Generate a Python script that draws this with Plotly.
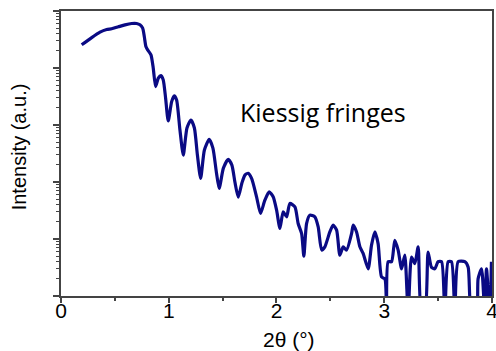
import plotly.graph_objects as go

two_theta = [0.192, 0.285, 0.362, 0.424, 0.470, 0.532, 0.594, 0.656, 0.702, 0.733,
             0.758, 0.773, 0.788, 0.804, 0.835, 0.856, 0.878, 0.903, 0.928, 0.949,
             0.971, 0.995, 1.027, 1.051, 1.073, 1.104, 1.135, 1.169, 1.206, 1.238,
             1.266, 1.296, 1.331, 1.376, 1.410, 1.442, 1.468, 1.507, 1.552, 1.586,
             1.614, 1.645, 1.679, 1.707, 1.737, 1.769, 1.815, 1.852, 1.892, 1.932,
             1.969, 2.001, 2.032, 2.062, 2.094, 2.124, 2.171, 2.201, 2.233, 2.254,
             2.279, 2.310, 2.356, 2.387, 2.419, 2.449, 2.495, 2.526, 2.558, 2.588,
             2.619, 2.650, 2.697, 2.712, 2.743, 2.774, 2.804, 2.851, 2.882, 2.913,
             2.943, 2.975, 3.006, 3.021, 3.036, 3.068, 3.098, 3.129, 3.161, 3.191,
             3.222, 3.253, 3.284, 3.315, 3.346, 3.377, 3.407, 3.438, 3.469, 3.500,
             3.532, 3.562, 3.593, 3.624, 3.655, 3.686, 3.748, 3.779, 3.810, 3.856,
             3.871, 3.903, 3.933, 3.949, 3.980, 3.995]

intensity = [25500, 34200, 42600, 47300, 48700, 52800, 57200, 60300, 60300, 57200,
             50000, 35600, 23800, 20800, 17000, 10000, 4710, 6620, 7350, 6180,
             2950, 1175, 2570, 3235, 2750, 817, 297, 886, 1224, 886,
             297, 116, 364, 561, 394, 149, 77, 175, 250, 198,
             100, 54, 96, 132, 142, 116, 55, 28, 48, 67,
             55, 32, 15.3, 30, 24.5, 42, 36.7, 18.7, 12.5, 5.0,
             18.7, 26.2, 24.5, 16.3, 6.4, 7.3, 13.3, 17.5, 14.3, 5.2,
             7.3, 6.4, 12.5, 17.5, 13.3, 7.3, 5.6, 3.0, 7.8, 13.3,
             8.3, 2.16, 2.0, 0.5, 4.0, 4.0, 9.5, 6.4, 3.0, 5.2,
             0.5, 4.8, 3.7, 7.3, 0.5, 0.5, 5.9, 3.2, 3.0, 4.0,
             4.0, 0.5, 4.0, 4.0, 0.5, 4.0, 4.0, 3.2, 0.5, 0.5,
             2.0, 3.0, 0.5, 3.0, 0.5, 4.0]

x_ticks = [0, 1, 2, 3, 4]
x_title = "2θ (°)"
y_title = "Intensity (a.u.)"
label = "Kiessig fringes"

fig = go.Figure()
fig.add_trace(go.Scatter(x=two_theta, y=intensity, mode="lines",
                         line=dict(color="#0a0a84", width=3.2, shape="spline", smoothing=0.6),
                         showlegend=False))

axis_col = "#444444"
fig.update_layout(
    width=496, height=351,
    margin=dict(l=61, r=4, t=11, b=55, autoexpand=False),
    paper_bgcolor="white", plot_bgcolor="white",
    font=dict(family="Liberation Sans, Arial, sans-serif", color="black"),
    xaxis=dict(range=[0, 4.0001], tickvals=x_ticks, ticktext=[str(v) for v in x_ticks],
               ticks="outside", ticklen=5, tickwidth=1.5, tickcolor=axis_col,
               ticklabelstandoff=-10, ticklabeloverflow="allow", automargin=False,
               showline=True, linecolor=axis_col, linewidth=1.5, mirror=True,
               showgrid=False, zeroline=False, tickfont=dict(size=21),
               minor=dict(dtick=0.5, ticks="outside", ticklen=3, tickcolor=axis_col, tickwidth=1.5)),
    yaxis=dict(type="log", range=[0, 5], dtick=1, showticklabels=False,
               ticks="outside", ticklen=6, tickwidth=1.5, tickcolor=axis_col,
               showline=True, linecolor=axis_col, linewidth=1.5, mirror=True,
               showgrid=False, zeroline=False,
               minor=dict(dtick="D1", ticks="outside", ticklen=3, tickcolor=axis_col, tickwidth=1)),
    annotations=[
        dict(text=x_title, xref="paper", yref="paper", x=0.53, y=-0.152,
             xanchor="center", yanchor="middle", showarrow=False, font=dict(size=21)),
        dict(text=y_title, xref="paper", yref="paper", x=-0.0975, y=0.525,
             xanchor="center", yanchor="middle", textangle=-90, showarrow=False,
             font=dict(size=20)),
        dict(text=label, xref="x", yref="paper", x=2.43, y=0.645,
             xanchor="center", yanchor="middle", showarrow=False,
             font=dict(family="Open Sans, sans-serif", size=25)),
    ],
)

fig.write_html("out.html")
